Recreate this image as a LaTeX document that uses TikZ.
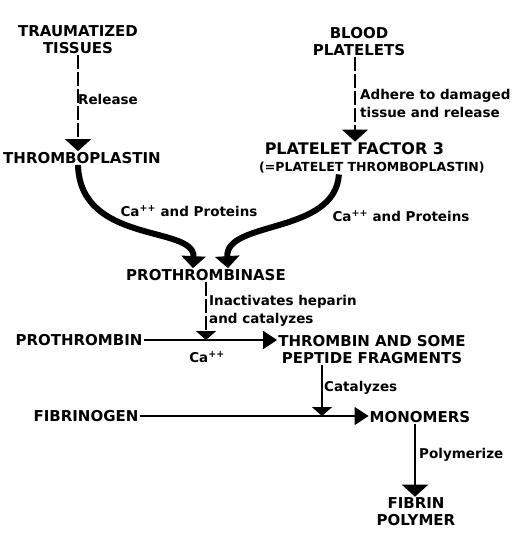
\documentclass[tikz,border=0pt]{standalone}
\usepackage{fontspec}
\newfontfamily\cascadefont{DejaVu Sans}
\usetikzlibrary{arrows.meta}

\begin{document}
\begin{tikzpicture}[
  x=1pt, y=-1pt,
  stage/.style={font=\cascadefont\bfseries\fontsize{15}{17}\selectfont,
    align=center, inner sep=1pt},
  note/.style={anchor=west, align=left, inner sep=1pt,
    font=\cascadefont\bfseries\fontsize{13.5}{18}\selectfont},
  flow/.style={line width=1.6pt, -{Triangle[width=26pt,length=12pt]}},
  broken/.style={flow, dash pattern=on 14pt off 3pt},
  feed/.style={line width=1.6pt, -{Triangle[width=18pt,length=14pt]}},
  hook/.style={line width=1.6pt, -{Triangle[width=20pt,length=9pt]}},
  bigarc/.style={line width=6pt, -{Triangle[width=24pt,length=12pt]}},
]
\useasboundingbox (0,0) rectangle (532,542);

% ---- sources ------------------------------------------------------------
\node[stage] (tissues)   at (78,40)  {TRAUMATIZED\\TISSUES};
\node[stage] (platelets) at (359,42) {BLOOD\\PLATELETS};

% ---- the two thromboplastins --------------------------------------------
\node[stage] (thrombo) at (82,158) {THROMBOPLASTIN};
\node[stage, anchor=west, align=left] (factor) at (258,158)
  {\fontsize{16}{17}\selectfont\ PLATELET FACTOR 3\\
   {\fontsize{12.5}{17}\selectfont(=PLATELET THROMBOPLASTIN)}};

% ---- the cascade --------------------------------------------------------
\node[stage] (prothr)      at (206,275) {PROTHROMBINASE};
\node[stage] (prothrombin) at (79,340)  {PROTHROMBIN};
\node[stage] (thrombin)    at (372,350) {THROMBIN AND SOME\\PEPTIDE FRAGMENTS};
\node[stage] (fibrinogen)  at (86,416)  {FIBRINOGEN};
\node[stage] (monomers)    at (420,417) {MONOMERS};
\node[stage] (fibrin)      at (416,512) {FIBRIN\\POLYMER};

\coordinate (cut1) at (prothr.south |- prothrombin.east);
\coordinate (cut2) at (322,416);

% ---- what each step does ------------------------------------------------
\node[note] (release) at (77,99)   {Release};
\node[note] (adhere)  at (359,103) {Adhere to damaged\\tissue and release};
\node[note, anchor=center] (caleft)  at (189,211) {Ca\textsuperscript{++} and Proteins};
\node[note, anchor=center] (caright) at (401,216) {Ca\textsuperscript{++} and Proteins};
\node[note] (inact)   at (208,311) {Inactivates heparin\\and catalyzes};
\node[note, anchor=center] (ca) at (207,357) {Ca\textsuperscript{++}};
\node[note] (catal)   at (323,388) {Catalyzes};
\node[note] (polym)   at (418,455) {Polymerize};

% ---- arrows -------------------------------------------------------------
\draw[broken] (tissues.south) -- (tissues.south |- thrombo.north);
\draw[broken] ([xshift=-4pt]platelets.south)
  -- ([xshift=-4pt]platelets.south |- factor.north);
\draw[bigarc] ([xshift=-4pt]thrombo.south)
  .. controls (80,245) and (195,225) .. ([xshift=-13pt]prothr.north);
\draw[bigarc] ([xshift=-33pt]factor.south)
  .. controls (335,235) and (225,220) .. ([xshift=22pt]prothr.north);
\draw[hook, dash pattern=on 14pt off 3pt] (prothr.south) -- (cut1);
\draw[feed] (prothrombin.east) -- (prothrombin.east -| thrombin.west);
\draw[hook] (cut2 |- thrombin.south) -- (cut2);
\draw[feed] (fibrinogen.east) -- (fibrinogen.east -| monomers.west);
\draw[flow] ([xshift=-5pt]monomers.south)
  -- ([xshift=-5pt]monomers.south |- fibrin.north);
\end{tikzpicture}
\end{document}
